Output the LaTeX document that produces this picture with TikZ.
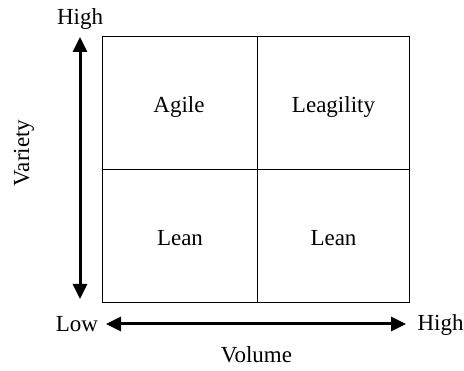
\documentclass[tikz,border=0pt]{standalone}
\usepackage{fontspec}
\setmainfont{Liberation Serif}
\usetikzlibrary{arrows.meta}
\begin{document}
\begin{tikzpicture}[x=1pt,y=-1pt,
  lbl/.style={inner sep=0pt,anchor=base,font=\fontsize{23}{27}\selectfont},
  cell/.style={draw=black,line width=1pt},
  axis/.style={line width=3pt,{Triangle[length=15pt,width=14pt]}-{Triangle[length=15pt,width=14pt]}}]
\useasboundingbox (0,0) rectangle (464,371);
% quadrant grid
\draw[cell] (102,37) rectangle (409,303);
\draw[cell] (257,37) -- (257,303);
\draw[cell] (102,170) -- (409,170);
% quadrant labels
\node[lbl] (agile) at (179,113) {Agile};
\node[lbl] (leag) at (333.5,113) {Leagility};
\node[lbl] (lean1) at (180,246) {Lean};
\node[lbl] (lean2) at (333.5,246) {Lean};
% axis ends
\coordinate (vtop) at (80,37);
\coordinate (vbot) at (80,299);
\coordinate (hleft) at (106,324);
\coordinate (hright) at (406,324);
\draw[axis] (vbot) -- (vtop);
\draw[axis] (hleft) -- (hright);
% axis labels
\node[lbl] (vhigh) at (80,25) {High};
\node[lbl] (low) at (77,331.5) {Low};
\node[lbl] (hhigh) at (440.5,331) {High};
\node[lbl] (volume) at (256.5,363) {Volume};
\node[lbl,rotate=90] (variety) at (29,153) {Variety};
\end{tikzpicture}
\end{document}
